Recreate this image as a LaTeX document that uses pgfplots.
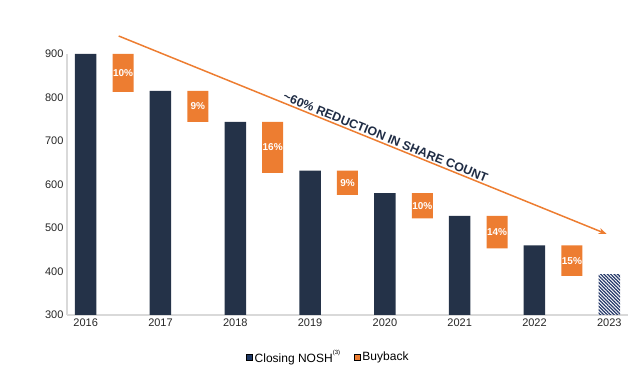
\documentclass[border=0pt]{standalone}
\usepackage{pgfplots}
\pgfplotsset{compat=1.18}
\usepackage{fontspec}
\setmainfont{Liberation Sans}
\usetikzlibrary{patterns.meta, arrows.meta}
\definecolor{navy}{HTML}{243248}
\definecolor{hatchnavy}{HTML}{26396A}
\definecolor{legnavy}{HTML}{1F3864}
\definecolor{borange}{HTML}{ED7D31}
\definecolor{axgray}{HTML}{D9D9D9}
\definecolor{txtnavy}{HTML}{1F2C44}

\begin{document}
\begin{tikzpicture}
\useasboundingbox (-67pt,-51pt) rectangle (573pt,315pt);
\pgfplotsset{common/.style={width=561pt,height=261pt,scale only axis,
  xmin=-0.25,xmax=7.25,ymin=300,ymax=900, at={(0,0)}, anchor=south west}}

% floating buyback boxes
\begin{axis}[common, hide axis, ybar stacked, bar width=21pt]
\addplot[draw=none, fill=none] coordinates {(0.5,813) (1.5,744) (2.5,627) (3.5,576) (4.5,522) (5.5,453) (6.5,390)};
\addplot[draw=none, fill=borange] coordinates {(0.5,87) (1.5,71) (2.5,117) (3.5,56) (4.5,58) (5.5,75) (6.5,70)};
\end{axis}

\begin{axis}[common,
  axis x line*=bottom, axis y line*=left,
  axis line style={axgray, line width=1.3pt},
  major tick length=0pt,
  xtick={0,...,7}, xticklabels={2016,2017,2018,2019,2020,2021,2022,2023},
  ytick={300,400,...,900},
  tick label style={font=\fontsize{11}{13}\selectfont, text=black!85},
  /pgf/number format/assume math mode=true,
  /pgf/number format/1000 sep={},
  legend columns=2,
  legend style={draw=none, fill=none, at={(0.466,-0.161)}, anchor=center,
    font=\fontsize{12}{14}\selectfont,
    /tikz/every even column/.append style={column sep=12pt}},
  legend image code/.code={\fill[#1] (0pt,-3pt) rectangle (6pt,3pt);},
]
\addlegendimage{fill=legnavy}
\addlegendentry{Closing NOSH\raisebox{1.3ex}{\fontsize{6}{6}\selectfont(3)}}
\addlegendimage{fill=borange}
\addlegendentry{Buyback}

\addplot[ybar, bar width=21.5pt, bar shift=0pt, fill=navy, draw=none, forget plot]
  coordinates {(0,900) (1,815) (2,744) (3,632) (4,580) (5,528) (6,460)};
\addplot[ybar, bar width=21.5pt, bar shift=0pt, draw=none, forget plot,
  pattern={Lines[angle=-45,distance=2.4pt,line width=1.25pt]}, pattern color=hatchnavy]
  coordinates {(7,392)};

\addplot[draw=none, forget plot, nodes near coords, point meta=explicit symbolic,
  nodes near coords align=center,
  every node near coord/.style={font=\bfseries\fontsize{10}{11}\selectfont, text=white, anchor=center}]
  coordinates {(0.5,856.5) [10\%] (1.5,779.5) [9\%] (2.5,685.5) [16\%] (3.5,604) [9\%]
               (4.5,551) [10\%] (5.5,490.5) [14\%] (6.5,425) [15\%]};

\coordinate (A) at (axis cs:0.441,941.4);
\coordinate (B) at (axis cs:6.965,486.2);
\end{axis}

\draw[borange, line width=1.5pt, -{Stealth[length=8pt,width=6pt]}] (A) -- (B)
  node[pos=0.542, sloped, above, inner sep=1.5pt, text=txtnavy,
       font=\bfseries\fontsize{12.4}{14}\selectfont] {\textasciitilde60\% REDUCTION IN SHARE COUNT};
\end{tikzpicture}
\end{document}
